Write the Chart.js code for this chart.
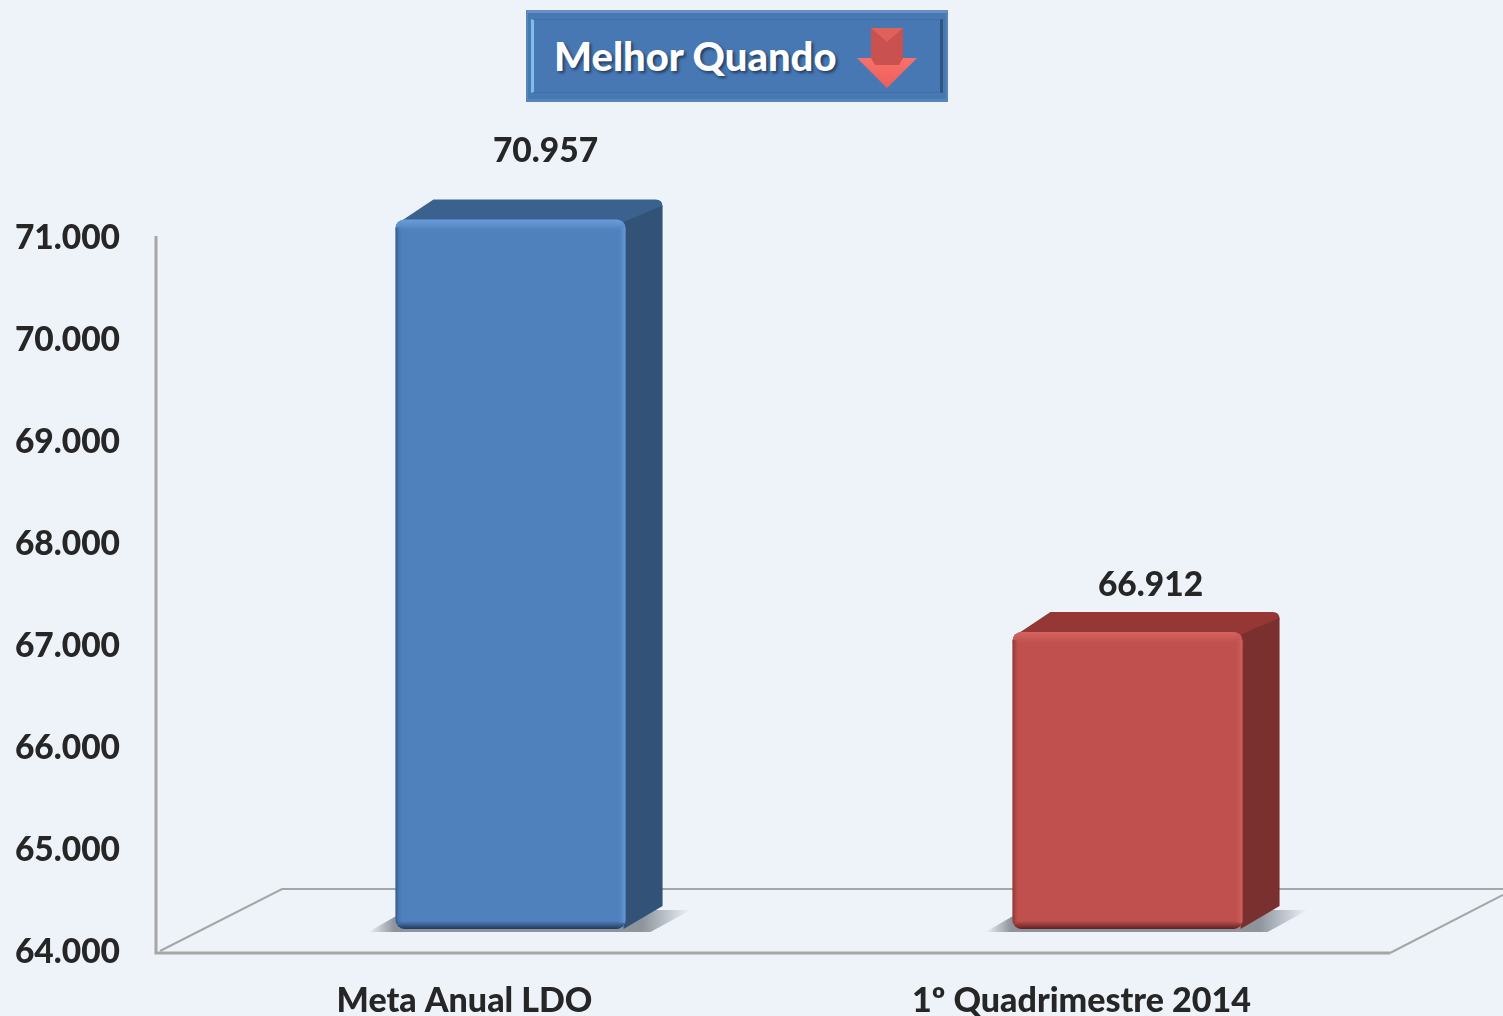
<!DOCTYPE html>
<html lang="pt">
<head>
<meta charset="utf-8">
<title>Melhor Quando</title>
<script src="https://cdn.jsdelivr.net/npm/chart.js@4"></script>
<style>
html,body{margin:0;padding:0;background:#EEF3FA;overflow:hidden}
#wrap{position:relative;width:1503px;height:1016px}
canvas{display:block}
#badge{position:absolute;left:526px;top:10px;width:422px;height:92px;box-sizing:border-box;background:#4878B3;
 border-top:3px solid #6391C8;border-left:2px solid #5887C0;border-right:2px solid #5584BC;border-bottom:3px solid #5685BE}
#badge .inner{position:absolute;left:3px;top:6px;right:3px;bottom:6px;border-left:3px solid #7FBDE6;border-right:3px solid #2D5680;border-bottom:1px solid #3F6DA5;border-top:1px solid #3F6DA5}
#badge .txt{position:absolute;left:26px;top:20px;font:900 40px Lato,sans-serif;color:#fff;line-height:46px;white-space:nowrap;text-shadow:2px 2px 3px #1F3D63}
#badge svg{position:absolute;left:328px;top:12px}
</style>
</head>
<body>
<div id="wrap">
<canvas id="c" width="1503" height="1016"></canvas>
<div id="badge"><div class="inner"></div><div class="txt">Melhor Quando</div>
<svg width="62" height="64" viewBox="0 0 62 64"><defs><linearGradient id="h" x1="0" y1="0" x2="0" y2="1"><stop offset="0" stop-color="#F9706A"/><stop offset="1" stop-color="#EC5F5B"/></linearGradient></defs>
<polygon points="1,33 31,63 61,33" fill="url(#h)"/><polygon points="15,3 47,3 47,33 43,40 19,40 15,33" fill="#C9514F"/><polygon points="15,3 47,3 31,17" fill="#E0605B"/></svg></div>
</div>
<script>
const categories = ['Meta Anual LDO', '1º Quadrimestre 2014'];
const seriesValues = [70957, 66912];
const yMin = 64000, yMax = 71000, yStep = 1000;

const faceColors = ['#4F81BD', '#C0504D'];
const topColors = ['#3B628F', '#943735'];
const sideColors = ['#325277', '#7A302E'];
const lightColors = ['#6A9EDB', '#D4645F'];
const darkColors = ['#1F3B5C', '#5E2120'];
const labelNudge = [[81, -90], [69, -69]];

const fmt = v => Math.round(v).toString().replace(/\B(?=(\d{3})+$)/g, '.');
const FONT = '900 33.5px Lato, sans-serif';
const INK = '#262626';
const DX = 46, DY = -22, DEPTHX = 37, DEPTHY = -20;

function front(el){
  const w = el.width;
  return {l: el.x + DX - w/2, r: el.x + DX + w/2, t: el.y + DY, b: el.base + DY};
}

const scene = {
  id: 'scene',
  beforeDatasetsDraw(chart){
    const {ctx, chartArea: a} = chart;
    ctx.save();
    ctx.strokeStyle = '#A6A6A6';
    ctx.lineWidth = 2;
    ctx.beginPath();
    ctx.moveTo(a.left + 4, a.bottom); ctx.lineTo(a.left + 126, a.bottom - 62); ctx.lineTo(1503, a.bottom - 62);
    ctx.moveTo(a.right, a.bottom + 2); ctx.lineTo(1503, a.bottom - 56);
    ctx.stroke();
    ctx.lineWidth = 3;
    ctx.beginPath();
    ctx.moveTo(a.left, a.top - 1); ctx.lineTo(a.left, a.bottom + 3.5);
    ctx.moveTo(a.left, a.bottom + 2); ctx.lineTo(a.right, a.bottom + 2);
    ctx.stroke();
    chart.getDatasetMeta(0).data.forEach(el => {
      const f = front(el);
      const g = ctx.createLinearGradient(f.l - 27, 0, f.r + 65, 0);
      g.addColorStop(0, 'rgba(130,138,146,0)');
      g.addColorStop(0.08, 'rgba(130,138,146,0.9)');
      g.addColorStop(0.85, 'rgba(130,138,146,0.9)');
      g.addColorStop(1, 'rgba(130,138,146,0)');
      ctx.fillStyle = g;
      ctx.beginPath();
      ctx.moveTo(f.l - 27, f.b + 3); ctx.lineTo(f.l + 11, f.b - 19);
      ctx.lineTo(f.r + 65, f.b - 19); ctx.lineTo(f.r + 25, f.b + 3);
      ctx.closePath(); ctx.fill();
    });
    ctx.restore();
  },
  beforeDatasetDraw(chart){
    const ctx = chart.ctx;
    chart.getDatasetMeta(0).data.forEach((el, i) => {
      const f = front(el);
      ctx.save();
      ctx.fillStyle = topColors[i];
      ctx.beginPath();
      ctx.moveTo(f.l + 2, f.t + 4);
      ctx.lineTo(f.l + 38, f.t + DEPTHY);
      ctx.lineTo(f.r + DEPTHX - 7, f.t + DEPTHY);
      ctx.quadraticCurveTo(f.r + DEPTHX, f.t + DEPTHY, f.r + DEPTHX, f.t + DEPTHY + 7);
      ctx.lineTo(f.r, f.t + 6);
      ctx.closePath(); ctx.fill();
      ctx.fillStyle = sideColors[i];
      ctx.beginPath();
      ctx.moveTo(f.r - 3, f.t + 3);
      ctx.lineTo(f.r + DEPTHX, f.t + DEPTHY + 6);
      ctx.lineTo(f.r + DEPTHX, f.b + DEPTHY - 3);
      ctx.lineTo(f.r - 2, f.b);
      ctx.closePath(); ctx.fill();
      ctx.restore();
    });
    ctx.save();
    ctx.translate(DX, DY);
  },
  afterDatasetDraw(chart){
    const ctx = chart.ctx;
    ctx.restore();
    chart.getDatasetMeta(0).data.forEach((el, i) => {
      const f = front(el);
      ctx.save();
      ctx.beginPath();
      ctx.roundRect(f.l, f.t, f.r - f.l, f.b - f.t, 9);
      ctx.clip();
      let g = ctx.createLinearGradient(0, f.t, 0, f.t + 11);
      g.addColorStop(0, lightColors[i]); g.addColorStop(1, faceColors[i]);
      ctx.fillStyle = g; ctx.fillRect(f.l, f.t, f.r - f.l, 11);
      g = ctx.createLinearGradient(0, f.b - 8, 0, f.b);
      g.addColorStop(0, faceColors[i]); g.addColorStop(1, darkColors[i]);
      ctx.fillStyle = g; ctx.fillRect(f.l, f.b - 8, f.r - f.l, 8);
      g = ctx.createLinearGradient(f.l, 0, f.l + 7, 0);
      g.addColorStop(0, darkColors[i]); g.addColorStop(1, faceColors[i] + '00');
      ctx.fillStyle = g; ctx.globalAlpha = 0.6; ctx.fillRect(f.l, f.t + 8, 7, f.b - f.t - 14);
      g = ctx.createLinearGradient(f.r - 8, 0, f.r, 0);
      g.addColorStop(0, faceColors[i] + '00'); g.addColorStop(1, lightColors[i]);
      ctx.fillStyle = g; ctx.globalAlpha = 1; ctx.fillRect(f.r - 8, f.t + 8, 8, f.b - f.t - 14);
      ctx.restore();
    });
  },
  afterDatasetsDraw(chart){
    const ctx = chart.ctx;
    ctx.save();
    ctx.font = FONT; ctx.fillStyle = INK;
    ctx.textAlign = 'center'; ctx.textBaseline = 'middle';
    chart.getDatasetMeta(0).data.forEach((el, i) => {
      ctx.fillText(fmt(seriesValues[i]), el.x + labelNudge[i][0], el.y + labelNudge[i][1]);
    });
    ctx.restore();
  }
};

new Chart(document.getElementById('c'), {
  type: 'bar',
  data: {
    labels: categories,
    datasets: [{
      data: seriesValues,
      base: yMin,
      backgroundColor: faceColors,
      borderWidth: 0,
      borderRadius: 9,
      borderSkipped: false,
      barPercentage: 0.373,
      categoryPercentage: 1,
      clip: false
    }]
  },
  options: {
    responsive: false,
    animation: false,
    devicePixelRatio: 1,
    layout: {padding: {top: 237, right: 113, bottom: 0, left: 0}},
    plugins: {legend: {display: false}, title: {display: false}, tooltip: {enabled: false}},
    scales: {
      x: {
        grid: {display: false, drawTicks: false},
        border: {display: false},
        ticks: {color: INK, font: {family: 'Lato, sans-serif', weight: '900', size: 34}, padding: 30, maxRotation: 0, autoSkip: false},
        afterFit(s){ s.height = 65; }
      },
      y: {
        min: yMin, max: yMax,
        grid: {display: false, drawTicks: false},
        border: {display: false},
        ticks: {stepSize: yStep, color: INK, font: {family: 'Lato, sans-serif', weight: '900', size: 33.5}, padding: 36, labelOffset: 1, callback: fmt},
        afterFit(s){ s.width = 156; }
      }
    }
  },
  plugins: [scene]
});
</script>
</body>
</html>
